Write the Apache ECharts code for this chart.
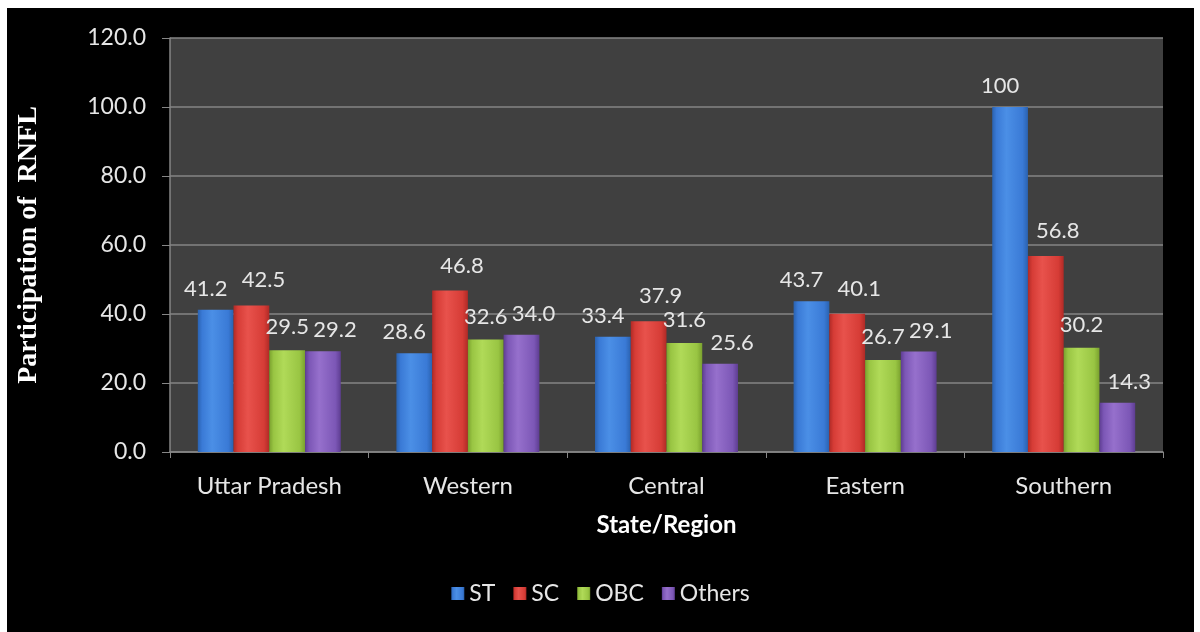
<!DOCTYPE html>
<html>
<head>
<meta charset="utf-8">
<script src="https://cdn.jsdelivr.net/npm/echarts@6/dist/echarts.min.js"></script>
<style>
  html, body { margin: 0; padding: 0; background: #fff; }
  #chart { position: absolute; left: 7px; top: 8px; width: 1187px; height: 624px; background: #000; }
</style>
</head>
<body>
<div id="chart"></div>
<script>
const regions = ['Uttar Pradesh', 'Western', 'Central', 'Eastern', 'Southern']
const st = [41.2, 28.6, 33.4, 43.7, 100]
const sc = [42.5, 46.8, 37.9, 40.1, 56.8]
const obc = [29.5, 32.6, 31.6, 26.7, 30.2]
const others = [29.2, 34.0, 25.6, 29.1, 14.3]
const yTicks = [0, 20, 40, 60, 80, 100, 120]

const fontSans = 'Lato'
const labelColor = '#e6e6e6'

// edge / light / mid shades for the bevelled look
const shades = {
  ST: ['#2a62b0', '#4b8fe6', '#3a7ad6'],
  SC: ['#b02a26', '#e8524c', '#d63c36'],
  OBC: ['#7aa12e', '#b0da58', '#99c543'],
  Others: ['#5e3d92', '#9670cc', '#7c57b6']
}

function barFill(name) {
  const [edge, light, mid] = shades[name]
  return new echarts.graphic.LinearGradient(0, 0, 1, 0, [
    { offset: 0, color: edge },
    { offset: 0.12, color: mid },
    { offset: 0.4, color: light },
    { offset: 0.85, color: mid },
    { offset: 1, color: edge }
  ])
}

function makeSeries(name, data, offset) {
  return {
    name: name,
    type: 'bar',
    data: data,
    barGap: '0%',
    barCategoryGap: '28%',
    itemStyle: { color: barFill(name) },
    label: {
      show: true,
      position: 'top',
      distance: 10,
      offset: offset,
      color: labelColor,
      fontFamily: fontSans,
      fontSize: 22,
      formatter: p => p.value >= 100 ? String(p.value) : p.value.toFixed(1)
    }
  }
}

const chart = echarts.init(document.getElementById('chart'))

chart.setOption({
  backgroundColor: '#000',
  animation: false,
  color: [shades.ST[2], shades.SC[2], shades.OBC[2], shades.Others[2]],
  grid: {
    left: 156,
    top: 30,
    width: 1000,
    height: 414,
    show: true,
    backgroundColor: '#404040',
    borderWidth: 0
  },
  legend: {
    bottom: 22,
    left: 'center',
    icon: 'rect',
    itemWidth: 13,
    itemHeight: 13,
    itemGap: 18,
    textStyle: { color: labelColor, fontFamily: fontSans, fontSize: 23 },
    data: ['ST', 'SC', 'OBC', 'Others']
  },
  xAxis: {
    type: 'category',
    data: regions,
    name: 'State/Region',
    nameLocation: 'middle',
    nameGap: 61,
    nameTextStyle: { color: '#fff', fontFamily: fontSans, fontWeight: 'bold', fontSize: 24 },
    axisLine: { lineStyle: { color: '#868686', width: 1.5 } },
    axisTick: { show: true, length: 6, lineStyle: { color: '#868686' } },
    axisLabel: { color: labelColor, fontFamily: fontSans, fontSize: 24, margin: 22 }
  },
  yAxis: {
    type: 'value',
    min: yTicks[0],
    max: yTicks[yTicks.length - 1],
    interval: yTicks[1] - yTicks[0],
    name: 'Participation of  RNFL',
    nameLocation: 'middle',
    nameGap: 127,
    nameTextStyle: { color: '#fff', fontFamily: 'Liberation Serif', fontWeight: 'bold', fontSize: 28 },
    axisLine: { show: true, lineStyle: { color: '#868686', width: 1.5 } },
    axisTick: { show: true, length: 8, lineStyle: { color: '#868686' } },
    splitLine: { lineStyle: { color: '#858585', width: 1.5 } },
    axisLabel: {
      color: labelColor,
      fontFamily: fontSans,
      fontSize: 23,
      margin: 24,
      formatter: v => v.toFixed(1)
    }
  },
  series: [
    makeSeries('ST', st, [-10, 0]),
    makeSeries('SC', sc, [12, -4]),
    makeSeries('OBC', obc, [0, -2]),
    makeSeries('Others', others, [12, 0])
  ]
})
</script>
</body>
</html>
